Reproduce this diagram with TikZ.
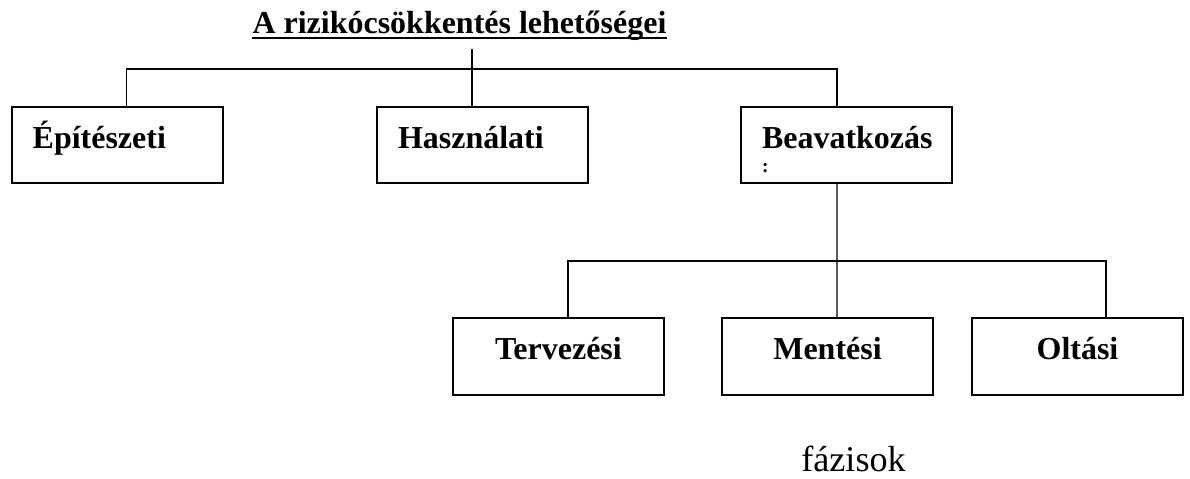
\documentclass[tikz,border=0pt]{standalone}
\usepackage{fontspec}
\setmainfont{Liberation Serif}
\usepackage{tikz}
\usetikzlibrary{calc}

\begin{document}
\begin{tikzpicture}[x=0.02cm, y=-0.02cm,
    box/.style={draw=black, line width=1.1pt, minimum width=4.22cm, minimum height=1.53cm,
        inner xsep=0.42cm, inner ysep=0.1cm, text width=3.38cm, align=left,
        text height=0.44cm, text depth=0.32cm, font=\fontsize{18.2}{14.2}\selectfont\bfseries},
    lowbox/.style={box, align=center},
    conn/.style={line width=0.75pt}]
    \useasboundingbox (0,0) rectangle (1190,478);
    % title
    \node[anchor=base, inner sep=0pt, font=\fontsize{18.2}{22}\selectfont\bfseries] (ttl) at (459.5,33)
        {A rizikócsökkentés lehetőségei};
    \draw[line width=1pt] ([yshift=-0.1cm]ttl.base west) -- ([yshift=-0.1cm]ttl.base east);
    \coordinate (ttlfoot) at (472,49);
    % first level
    \node[box] (epit) at (117.2,145) {Építészeti};
    \node[box] (hasz) at (482.5,145) {Használati};
    \node[box] (beav) at (846.5,145) {Beavatkozás\\{\fontsize{11}{11}\selectfont :}};
    \coordinate (topbus) at (472,69);
    \draw[conn] (ttlfoot) -- (hasz.north -| ttlfoot);
    \draw[conn] ([xshift=0.19cm]epit.north) |- (topbus) -| ([xshift=-0.19cm]beav.north);
    % phases
    \node[lowbox] (terv) at (558.4,356.5) {Tervezési};
    \node[lowbox] (ment) at (827.5,356.5) {Mentési};
    \node[lowbox] (olta) at (1077.5,356.5) {Oltási};
    \coordinate (lowbus) at (837,261);
    \draw[conn] ([xshift=-0.19cm]beav.south) -- ([xshift=0.19cm]ment.north);
    \draw[conn] ([xshift=0.19cm]terv.north) |- (lowbus) -| ([xshift=0.57cm]olta.north);
    \node[anchor=base, inner sep=0pt, font=\fontsize{20.6}{24}\selectfont] (fazis) at (853.5,471) {fázisok};
\end{tikzpicture}
\end{document}
